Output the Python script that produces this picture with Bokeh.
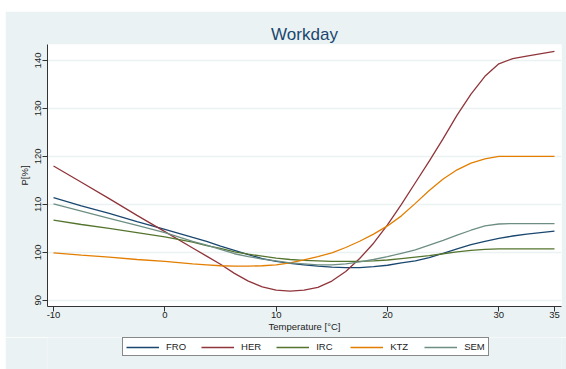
from bokeh.plotting import figure
from bokeh.models import Legend, LegendItem, FixedTicker, Range1d
from bokeh.layouts import column
from bokeh.embed import file_html
from bokeh.resources import INLINE

temperature = [-10, -7.5, -5, -2.5, 0, 2.5, 3.75, 5, 6.25, 7.5, 8.75, 10, 11.25, 12.5, 13.75, 15,
               16.25, 17.5, 18.75, 20, 21.25, 22.5, 23.75, 25, 26.25, 27.5, 28.75, 30, 31.25, 32.5, 35]

fro = [111.4, 109.7, 108.1, 106.4, 104.8, 103.1, 102.3, 101.3, 100.4, 99.5, 98.7, 98.1, 97.7, 97.4, 97.1, 96.9,
       96.8, 96.8, 97.0, 97.3, 97.8, 98.2, 98.9, 99.8, 100.7, 101.6, 102.3, 102.9, 103.4, 103.8, 104.4]
her = [118.0, 114.6, 111.2, 107.7, 104.3, 100.9, 99.2, 97.5, 95.6, 94.0, 92.8, 92.1, 91.9, 92.1, 92.7, 94.0,
       96.0, 98.7, 101.9, 105.7, 110.0, 114.5, 119.0, 123.7, 128.6, 133.0, 136.7, 139.3, 140.4, 140.9, 141.9]
irc = [106.7, 105.8, 105.0, 104.1, 103.2, 102.1, 101.4, 100.8, 100.1, 99.6, 99.2, 98.8, 98.5, 98.3, 98.2, 98.1,
       98.1, 98.1, 98.2, 98.4, 98.7, 99.0, 99.3, 99.7, 100.1, 100.4, 100.6, 100.7, 100.7, 100.7, 100.7]
ktz = [99.9, 99.4, 99.0, 98.5, 98.1, 97.6, 97.4, 97.2, 97.1, 97.1, 97.2, 97.4, 97.8, 98.4, 99.1, 99.9,
       101.0, 102.3, 103.8, 105.5, 107.6, 110.2, 112.9, 115.3, 117.2, 118.6, 119.5, 120.0, 120.0, 120.0, 120.0]
sem = [110.1, 108.6, 107.1, 105.6, 104.1, 102.3, 101.5, 100.6, 99.7, 99.1, 98.6, 98.2, 97.8, 97.6, 97.4, 97.4,
       97.6, 98.0, 98.5, 99.1, 99.8, 100.5, 101.5, 102.5, 103.6, 104.6, 105.5, 105.9, 106.0, 106.0, 106.0]

series_names = ["FRO", "HER", "IRC", "KTZ", "SEM"]
series_values = [fro, her, irc, ktz, sem]
colors = ["#1a476f", "#90353b", "#55752f", "#e37e00", "#6e8e84"]

x_ticks = [-10, 0, 10, 20, 30, 35]
x_tick_labels = ["-10", "0", "10", "20", "30", "35"]
y_ticks = [90, 100, 110, 120, 130, 140]

FONT = "Liberation Sans"
BG = "#eaf2f3"
W = 561

p = figure(width=W, height=326, output_backend="svg", toolbar_location=None,
           x_range=Range1d(-10.54, 35.63), y_range=Range1d(88.7, 143.33),
           min_border_left=42, min_border_right=5, min_border_top=33, min_border_bottom=31)

p.border_fill_color = BG
p.background_fill_color = "white"
p.outline_line_color = None

p.title.text = "Workday"
p.title.align = "center"
p.title.text_font = FONT
p.title.text_font_size = "17px"
p.title.text_font_style = "normal"
p.title.text_color = "#1a476f"
p.title.standoff = 2

for name, vals, col in zip(series_names, series_values, colors):
    p.line(temperature, vals, line_color=col, line_width=1.3)

p.xgrid.visible = False
p.ygrid.ticker = FixedTicker(ticks=y_ticks)
p.ygrid.grid_line_color = BG
p.ygrid.grid_line_width = 1.5

p.xaxis.ticker = FixedTicker(ticks=x_ticks)
p.xaxis.major_label_overrides = {t: s for t, s in zip(x_ticks, x_tick_labels)}
p.yaxis.ticker = FixedTicker(ticks=y_ticks)
for ax in (p.xaxis, p.yaxis):
    ax.axis_line_color = "#333333"
    ax.major_tick_line_color = "#333333"
    ax.major_tick_out = 5
    ax.major_tick_in = 0
    ax.minor_tick_line_color = None
    ax.major_label_text_font = FONT
    ax.major_label_text_font_size = "9.5px"
    ax.major_label_text_color = "#222222"
    ax.axis_label_text_font = FONT
    ax.axis_label_text_font_size = "9.5px"
    ax.axis_label_text_font_style = "normal"
    ax.axis_label_text_color = "#222222"

p.xaxis.axis_label = "Temperature [°C]"
p.xaxis.major_label_standoff = 0
p.xaxis.axis_label_standoff = 0
p.yaxis.axis_label = "P[%]"
p.yaxis.major_label_standoff = 1
p.yaxis.axis_label_standoff = 3
p.yaxis.major_label_orientation = "vertical"

# legend strip below the chart
lg = figure(width=W, height=32, output_backend="svg", toolbar_location=None,
            x_range=Range1d(0, 1), y_range=Range1d(0, 1),
            min_border_left=42, min_border_right=5, min_border_top=0, min_border_bottom=0)
lg.border_fill_color = BG
lg.background_fill_color = BG
lg.outline_line_color = None
lg.axis.visible = False
lg.grid.visible = False

items = []
for name, col in zip(series_names, colors):
    # placeholder renderer kept outside the visible range; it only supplies the legend glyph
    r = lg.line(x=[0, 1], y=[5, 5], line_color=col, line_width=1.3)
    items.append(LegendItem(label=name, renderers=[r]))

legend = Legend(items=items, orientation="horizontal", location=(75, 13))
legend.label_text_font = FONT
legend.label_text_font_size = "9.5px"
legend.label_text_color = "#222222"
legend.glyph_width = 33
legend.glyph_height = 10
legend.label_standoff = 7
legend.label_width = 19
legend.label_height = 10
legend.spacing = 15
legend.padding = 3
legend.margin = 0
legend.border_line_color = "#111111"
legend.border_line_width = 1
legend.background_fill_color = "white"
lg.add_layout(legend)

layout = column(p, lg, spacing=0, margin=(11, 0, 0, 5))
open("out.html", "w").write(file_html(layout, INLINE))
